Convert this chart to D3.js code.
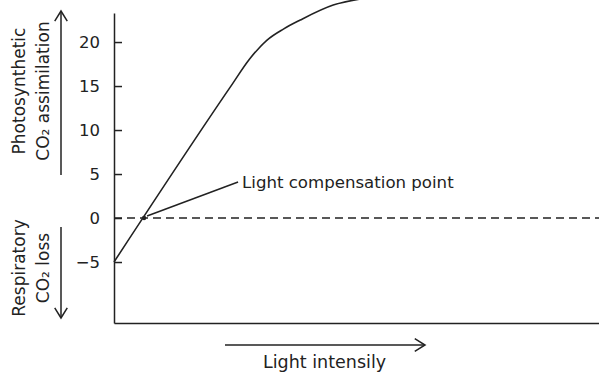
<!DOCTYPE html>
<html><head><meta charset="utf-8">
<script src="https://cdn.jsdelivr.net/npm/d3@7"></script>
<style>body{margin:0;background:#fff}svg{display:block}text{font-family:"DejaVu Sans",Verdana,sans-serif;fill:#222}</style>
</head><body>
<svg id="c" width="599" height="376"></svg>
<script>
// Data (light intensity in arbitrary units, CO2 exchange)
const lightIntensity = [0, 24, 28, 31.5, 35, 38.4, 45.2, 52, 60];
const co2Exchange   = [-5, 14.9, 18.1, 20.2, 21.5, 22.5, 24.2, 25.0, 25.5];
const yTicks = [-5, 0, 5, 10, 15, 20];
const compensationPoint = {x: 6.2, y: 0};
const annotationText = "Light compensation point";
const xLabel = "Light intensily";
const yLabelTop = ["Photosynthetic", "CO\u2082 assimilation"];
const yLabelBottom = ["Respiratory", "CO\u2082 loss"];

const svg = d3.select("#c");
const x = d3.scaleLinear().domain([0, 100]).range([114, 599]);
const y = d3.scaleLinear().domain([-11.93, 23.3]).range([323, 13]);
const ink = "#222";

// Y axis
const yAxis = svg.append("g").attr("transform", `translate(${x(0)},0)`)
  .call(d3.axisLeft(y).tickValues(yTicks).tickSize(-8).tickSizeOuter(0).tickPadding(14));
yAxis.selectAll("path,line").attr("stroke", ink).attr("stroke-width", 1.5);
yAxis.selectAll("text").attr("font-size", 16.5).attr("fill", ink)
  .attr("font-family", "DejaVu Sans, Verdana, sans-serif");

// X axis
const xAxis = svg.append("g").attr("transform", `translate(0,${y(-11.93)})`)
  .call(d3.axisBottom(x).tickValues([]).tickSizeOuter(0));
xAxis.selectAll("path").attr("stroke", ink).attr("stroke-width", 1.5);

// zero dashed line
svg.append("line").attr("x1", x(0)).attr("x2", x(100)).attr("y1", y(0)).attr("y2", y(0))
  .attr("stroke", ink).attr("stroke-width", 1.5).attr("stroke-dasharray", "8,5");

// curve
const pts = lightIntensity.map((d, i) => [d, co2Exchange[i]]);
svg.append("path").datum(pts)
  .attr("d", d3.line().x(d => x(d[0])).y(d => y(d[1])).curve(d3.curveMonotoneX))
  .attr("fill", "none").attr("stroke", ink).attr("stroke-width", 1.6);

// compensation point
const cx = x(compensationPoint.x), cy = y(compensationPoint.y);
svg.append("circle").attr("cx", cx).attr("cy", cy).attr("r", 2.2).attr("fill", ink);
svg.append("line").attr("x1", cx + 3).attr("y1", cy - 2).attr("x2", cx + 94).attr("y2", cy - 36)
  .attr("stroke", ink).attr("stroke-width", 1.5);
svg.append("text").attr("x", cx + 98).attr("y", cy - 30).attr("font-size", 16.6).text(annotationText);

// left labels
function vlabel(lines, cyy) {
  lines.forEach((t, i) => {
    svg.append("text").attr("transform", `translate(${[25, 49][i]},${cyy}) rotate(-90)`)
      .attr("text-anchor", "middle").attr("font-size", 17).text(t);
  });
}
vlabel(yLabelTop, 91);
vlabel(yLabelBottom, 268);

function arrow(x1, y1, x2, y2) {
  svg.append("line").attr("x1", x1).attr("y1", y1).attr("x2", x2).attr("y2", y2)
    .attr("stroke", ink).attr("stroke-width", 1.5);
  const a = Math.atan2(y2 - y1, x2 - x1), L = 12, w = 0.55;
  const p = [[x2 - L * Math.cos(a - w), y2 - L * Math.sin(a - w)], [x2, y2], [x2 - L * Math.cos(a + w), y2 - L * Math.sin(a + w)]];
  svg.append("path").attr("d", d3.line()(p)).attr("fill", "none").attr("stroke", ink).attr("stroke-width", 1.5);
}
arrow(61, 175, 61, 11);
arrow(61, 227, 61, 318);
arrow(225, 345, 425, 345);

svg.append("text").attr("x", 263).attr("y", 368).attr("font-size", 17.5).text(xLabel);
</script>
</body></html>
